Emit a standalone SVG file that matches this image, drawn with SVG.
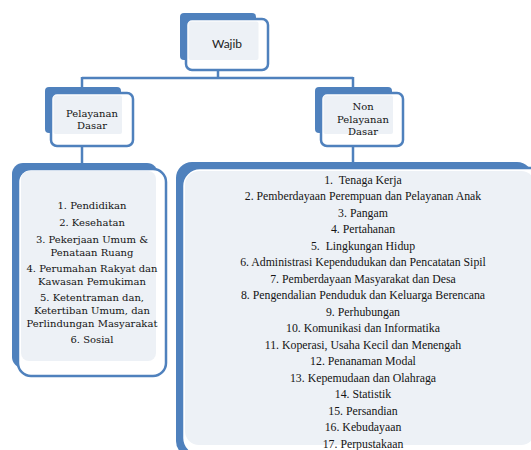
<svg xmlns="http://www.w3.org/2000/svg" width="531" height="450" viewBox="0 0 531 450">
<style>
.back{fill:#4F81BD}
.front{fill:#ffffff;stroke:#4F81BD;stroke-width:2.5}
.light{fill:#EDF1F6}
.conn{stroke:#4F81BD;stroke-width:2.5;fill:none}
.lbl{font-size:10px;fill:#141414;text-anchor:middle}
.lst{font-size:11.8px;fill:#141414;text-anchor:middle}
.sans{font-size:12px;fill:#222222;text-anchor:middle}
</style>
<rect width="531" height="450" fill="#ffffff"/>
<g id="connectors">
<path class="conn" d="M218,70 V78"/>
<path class="conn" d="M82,78 H353"/>
<path class="conn" d="M82,77 V88"/>
<path class="conn" d="M353,77 V88"/>
<path class="conn" d="M82,146 V164"/>
<path class="conn" d="M353,146 V163"/>
</g>
<g id="wajib" font-family="Lato, 'Liberation Sans', sans-serif">
<rect class="back" x="180" y="13" width="76" height="47" rx="4"/>
<rect class="front" x="186" y="19" width="82" height="51" rx="6"/>
<rect class="light" x="188.5" y="21.5" width="70" height="38.5" rx="2"/>
<text class="sans" x="227" y="48">Wajib</text>
</g>
<g id="pelayanan-dasar" font-family="'DejaVu Serif', serif">
<rect class="back" x="45" y="87" width="76" height="46" rx="4"/>
<rect class="front" x="51" y="93" width="82" height="53" rx="6"/>
<rect class="light" x="53.5" y="95.5" width="68.5" height="38.5" rx="2"/>
<text class="lbl" x="92" y="117">Pelayanan</text>
<text class="lbl" x="92" y="129">Dasar</text>
</g>
<g id="non-pelayanan-dasar" font-family="'DejaVu Serif', serif">
<rect class="back" x="315" y="87" width="77" height="46" rx="4"/>
<rect class="front" x="321" y="93" width="82" height="53" rx="6"/>
<rect class="light" x="323.5" y="95.5" width="69.5" height="38.5" rx="2"/>
<text class="lbl" x="363" y="110">Non</text>
<text class="lbl" x="363" y="122.5">Pelayanan</text>
<text class="lbl" x="363" y="134.5">Dasar</text>
</g>
<g id="list-pelayanan-dasar" font-family="'DejaVu Serif', serif">
<rect class="back" x="12" y="163" width="146" height="205" rx="11"/>
<rect class="front" x="18" y="169" width="148" height="207" rx="13"/>
<rect class="light" x="21" y="171" width="135" height="190" rx="8"/>
<text class="lbl" x="92" y="209">1. Pendidikan</text>
<text class="lbl" x="92" y="226">2. Kesehatan</text>
<text class="lbl" x="92" y="243">3. Pekerjaan Umum &amp;</text>
<text class="lbl" x="92" y="256">Penataan Ruang</text>
<text class="lbl" x="92" y="272">4. Perumahan Rakyat dan</text>
<text class="lbl" x="92" y="285">Kawasan Pemukiman</text>
<text class="lbl" x="92" y="301">5. Ketentraman dan,</text>
<text class="lbl" x="92" y="314">Ketertiban Umum, dan</text>
<text class="lbl" x="92" y="327">Perlindungan Masyarakat</text>
<text class="lbl" x="92" y="343">6. Sosial</text>
</g>
<g id="list-non-pelayanan-dasar" font-family="'Liberation Serif', 'Times New Roman', serif">
<rect class="back" x="176" y="162" width="357" height="295" rx="16"/>
<rect class="front" x="182" y="168" width="380" height="288" rx="18"/>
<rect class="light" x="185" y="171" width="350" height="274" rx="14"/>
<text class="lst" x="363" y="183.5">1.&#160; Tenaga Kerja</text>
<text class="lst" x="363" y="200">2. Pemberdayaan Perempuan dan Pelayanan Anak</text>
<text class="lst" x="363" y="216.5">3. Pangam</text>
<text class="lst" x="363" y="233">4. Pertahanan</text>
<text class="lst" x="363" y="249.5">5.&#160; Lingkungan Hidup</text>
<text class="lst" x="363" y="266">6. Administrasi Kependudukan dan Pencatatan Sipil</text>
<text class="lst" x="363" y="282.5">7. Pemberdayaan Masyarakat dan Desa</text>
<text class="lst" x="363" y="299">8. Pengendalian Penduduk dan Keluarga Berencana</text>
<text class="lst" x="363" y="315.5">9. Perhubungan</text>
<text class="lst" x="363" y="332">10. Komunikasi dan Informatika</text>
<text class="lst" x="363" y="348.5">11. Koperasi, Usaha Kecil dan Menengah</text>
<text class="lst" x="363" y="365">12. Penanaman Modal</text>
<text class="lst" x="363" y="381.5">13. Kepemudaan dan Olahraga</text>
<text class="lst" x="363" y="398">14. Statistik</text>
<text class="lst" x="363" y="414.5">15. Persandian</text>
<text class="lst" x="363" y="431">16. Kebudayaan</text>
<text class="lst" x="363" y="447.5">17. Perpustakaan</text>
</g>
</svg>
